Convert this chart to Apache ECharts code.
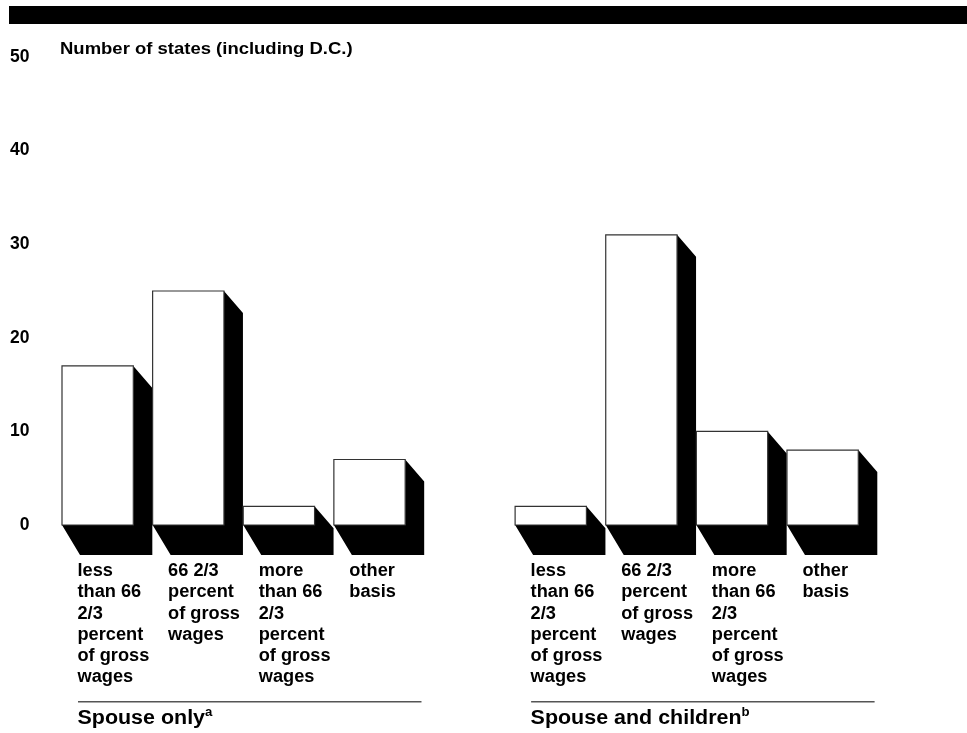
<!DOCTYPE html>
<html>
<head>
<meta charset="utf-8">
<script src="https://cdn.jsdelivr.net/npm/echarts@6/dist/echarts.min.js"></script>
<style>
html, body { margin: 0; padding: 0; background: #fff; }
#chart { width: 967px; height: 733px; }
</style>
</head>
<body>
<div id="chart"></div>
<script>
// values
const groupNames = ['Spouse only', 'Spouse and children'];
const groupNotes = ['a', 'b'];
const basisLabels = [
  'less\nthan 66\n2/3\npercent\nof gross\nwages',
  '66 2/3\npercent\nof gross\nwages',
  'more\nthan 66\n2/3\npercent\nof gross\nwages',
  'other\nbasis'
];
const spouseOnly = [17, 25, 2, 7];
const spouseChildren = [2, 31, 10, 8];
const yTicks = [0, 10, 20, 30, 40, 50];
const yTitle = 'Number of states (including D.C.)';

const FONT = '"Liberation Sans", Arial, Helvetica, sans-serif';

// 9 slots: 4 bars, one empty spacer, 4 bars
const categories = basisLabels.concat([''], basisLabels);
const barData = [];
spouseOnly.forEach((v, i) => barData.push([i, v]));
spouseChildren.forEach((v, i) => barData.push([i + 5, v]));

function renderBar(params, api) {
  const idx = api.value(0);
  const val = api.value(1);
  const band = api.size([1, 0])[0];
  const base = api.coord([idx, 0]);
  const top = api.coord([idx, val]);
  const x0 = base[0] - band / 2;
  const w = band * 0.787;
  const x1 = x0 + w;
  const dx = 19;
  const y0 = base[1];
  const yt = top[1];
  return {
    type: 'group',
    children: [
      {
        type: 'polygon',
        shape: { points: [[x1, yt], [x1 + dx, yt + 22], [x1 + dx, y0 + 30], [x0 + 18, y0 + 30], [x0, y0], [x1, y0]] },
        style: { fill: '#000' }
      },
      {
        type: 'rect',
        shape: { x: x0, y: yt, width: w, height: y0 - yt },
        style: { fill: '#fff', stroke: '#333', lineWidth: 1.2 }
      },
      {
        type: 'text',
        x: x0 + 15.5,
        y: y0 + 35.5,
        scaleX: 1.04,
        style: {
          text: categories[idx],
          x: 0, y: 0,
          fill: '#000',
          font: 'bold 17.5px ' + FONT,
          lineHeight: 21.3,
          align: 'left', verticalAlign: 'top',
          textAlign: 'left', textVerticalAlign: 'top'
        }
      }
    ]
  };
}

const chart = echarts.init(document.getElementById('chart'));
chart.setOption({
  animation: false,
  backgroundColor: '#fff',
  grid: { left: 62, right: 89.4, top: 57, bottom: 208, containLabel: false },
  xAxis: {
    type: 'category',
    data: categories,
    show: false
  },
  yAxis: {
    type: 'value',
    min: yTicks[0],
    max: yTicks[yTicks.length - 1],
    interval: 10,
    axisLine: { show: false },
    axisTick: { show: false },
    splitLine: { show: false },
    axisLabel: {
      margin: 32.5,
      color: '#000',
      fontSize: 17.5,
      fontWeight: 'bold',
      fontFamily: FONT
    }
  },
  series: [{
    type: 'custom',
    renderItem: renderBar,
    data: barData,
    clip: false
  }]
});

// annotations placed from the axis scales
const graphics = [
  { type: 'rect', shape: { x: 9, y: 6, width: 958, height: 18 }, style: { fill: '#000' } },
  {
    type: 'text', x: 60, y: 49, scaleX: 1.12,
    style: { text: yTitle, fill: '#000', font: 'bold 16.5px ' + FONT, verticalAlign: 'middle', textVerticalAlign: 'middle' }
  }
];
[0, 5].forEach((start, g) => {
  const band = 90.625;
  const left = chart.convertToPixel({ gridIndex: 0 }, [start, 0])[0] - band / 2;
  const right = chart.convertToPixel({ gridIndex: 0 }, [start + 3, 0])[0] + band / 2;
  graphics.push({
    type: 'line',
    shape: { x1: left + 16, y1: 701.7, x2: right - 3, y2: 701.7 },
    style: { stroke: '#555', lineWidth: 1.5 }
  });
  graphics.push({
    type: 'text', x: left + 15.5, y: 718.2, scaleX: 1.1,
    style: {
      text: '{m|' + groupNames[g] + '}{s|' + groupNotes[g] + '}',
      verticalAlign: 'middle', textVerticalAlign: 'middle',
      rich: {
        m: { font: 'bold 19.5px ' + FONT, fill: '#000', lineHeight: 24 },
        s: { font: 'bold 12px ' + FONT, fill: '#000', lineHeight: 13, verticalAlign: 'top' }
      }
    }
  });
});
chart.setOption({ graphic: graphics });
</script>
</body>
</html>
